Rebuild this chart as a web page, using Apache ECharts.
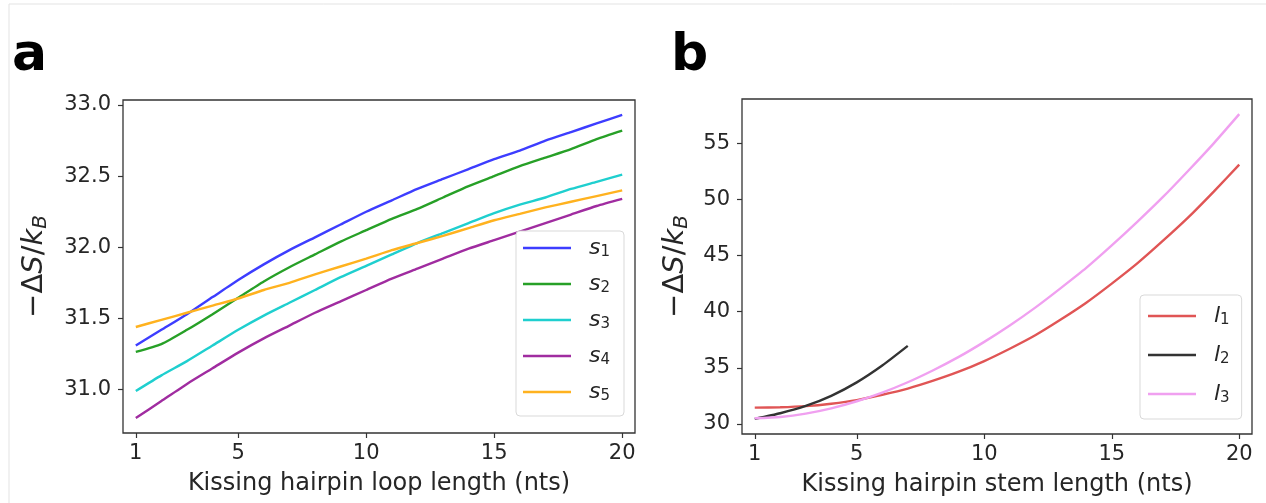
<!DOCTYPE html>
<html>
<head>
<meta charset="utf-8">
<script src="https://cdn.jsdelivr.net/npm/echarts@6/dist/echarts.min.js"></script>
<style>
  html, body { margin: 0; padding: 0; background: #fff; }
  #main { width: 1266px; height: 503px; }
</style>
</head>
<body>
<div id="main"></div>
<script>
// panel a: loop length vs -dS/kB
const loopLen = [1,2,3,4,5,6,7,8,9,10,11,12,13,14,15,16,17,18,19,20];
const s1 = [31.31,31.42,31.53,31.65,31.77,31.88,31.98,32.07,32.16,32.25,32.33,32.41,32.48,32.55,32.62,32.68,32.75,32.81,32.87,32.93];
const s2 = [31.265,31.32,31.42,31.53,31.645,31.76,31.86,31.95,32.04,32.12,32.2,32.27,32.35,32.43,32.5,32.57,32.63,32.69,32.76,32.82];
const s3 = [30.99,31.1,31.2,31.31,31.42,31.52,31.61,31.7,31.79,31.87,31.95,32.03,32.1,32.17,32.24,32.3,32.35,32.41,32.46,32.51];
const s4 = [30.8,30.92,31.04,31.15,31.26,31.36,31.45,31.54,31.62,31.7,31.78,31.85,31.92,31.99,32.05,32.11,32.17,32.23,32.29,32.34];
const s5 = [31.44,31.49,31.54,31.59,31.64,31.7,31.75,31.81,31.865,31.92,31.98,32.03,32.08,32.135,32.19,32.235,32.28,32.32,32.36,32.4];

// panel b: stem length
const stemLen = [1,2,3,4,5,6,7,8,9,10,11,12,13,14,15,16,17,18,19,20];
const stemLenShort = [1,2,3,4,5,6,7];
const l1 = [31.45,31.48,31.58,31.8,32.12,32.6,33.15,33.85,34.65,35.6,36.7,37.9,39.3,40.8,42.5,44.3,46.3,48.4,50.7,53.1];
const l2 = [30.45,30.95,31.6,32.5,33.7,35.2,36.95];
const l3 = [30.5,30.62,30.92,31.39,32.02,32.79,33.71,34.78,35.97,37.31,38.77,40.36,42.1,43.9,45.9,48.0,50.2,52.56,55.0,57.6];

const xTicks = [1,5,10,15,20];
const sTicks = [31,31.5,32,32.5,33];
const lTicks = [30,35,40,45,50,55];

const colS = ['#3d3dff','#27a027','#1fcfcf','#a02ca0','#ffb21f'];
const colL = ['#e05555','#333333','#f0a0f0'];

const FONT = 'DejaVu Sans';
const TXT = '#262626';

function pairs(xs, ys) { return ys.map((v, i) => [xs[i], v]); }

function xAx(idx, name) {
  return {
    type: 'value', gridIndex: idx, min: 0.5, max: 20.5,
    name: name, nameLocation: 'middle', nameGap: 39,
    nameTextStyle: { fontFamily: FONT, fontSize: 24, color: TXT },
    axisLine: { show: false },
    splitLine: { show: false },
    axisTick: { show: true, inside: false, length: 5, customValues: xTicks, lineStyle: { color: '#333', width: 1.2 } },
    axisLabel: { customValues: xTicks, margin: 10, fontFamily: FONT, fontSize: 21, color: TXT }
  };
}

function yAx(idx, min, max, ticks, fmt, gap) {
  return {
    type: 'value', gridIndex: idx, min: min, max: max,
    name: '{a|−Δ}{i|S}{a|/}{i|k}{b|B}', nameLocation: 'middle', nameRotate: 90, nameGap: gap,
    nameTextStyle: {
      rich: {
        a: { fontFamily: FONT, fontSize: 29, color: TXT, lineHeight: 34 },
        i: { fontFamily: FONT, fontSize: 29, fontStyle: 'italic', color: TXT, lineHeight: 34 },
        b: { fontFamily: FONT, fontSize: 20, fontStyle: 'italic', color: TXT, lineHeight: 20, verticalAlign: 'bottom' }
      }
    },
    axisLine: { show: false },
    splitLine: { show: false },
    axisTick: { show: true, inside: false, length: 5, customValues: ticks, lineStyle: { color: '#333', width: 1.2 } },
    axisLabel: { customValues: ticks, margin: 12, fontFamily: FONT, fontSize: 21, color: TXT, formatter: fmt }
  };
}

function legendRich() {
  return {
    v: { fontFamily: FONT, fontSize: 22, fontStyle: 'italic', color: TXT, lineHeight: 24, padding: [0, 0, 0, 13] },
    n: { fontFamily: FONT, fontSize: 15, color: TXT, lineHeight: 14, verticalAlign: 'bottom' }
  };
}

function line(name, xi, data, color) {
  return {
    name: name, type: 'line', xAxisIndex: xi, yAxisIndex: xi,
    data: data, showSymbol: false, symbol: 'none', smooth: 0.2,
    lineStyle: { color: color, width: 2.4 }, itemStyle: { color: color },
    animation: false
  };
}

const chart = echarts.init(document.getElementById('main'));
chart.setOption({
  backgroundColor: '#fff',
  animation: false,
  graphic: [
    { type: 'rect', shape: { x: 9, y: 4, width: 1300, height: 600 }, style: { fill: 'none', stroke: '#e3e3e3', lineWidth: 1 } },
    { type: 'text', style: { text: 'a', x: 12, y: 56, verticalAlign: 'middle', font: 'bold 52px "DejaVu Sans"', fill: '#000' } },
    { type: 'text', style: { text: 'b', x: 671, y: 56, verticalAlign: 'middle', font: 'bold 52px "DejaVu Sans"', fill: '#000' } }
  ],
  grid: [
    { left: 123, top: 100, width: 512, height: 333, show: true, borderColor: '#333', borderWidth: 1.3, backgroundColor: 'transparent' },
    { left: 742, top: 99, width: 510, height: 335, show: true, borderColor: '#333', borderWidth: 1.3, backgroundColor: 'transparent' }
  ],
  xAxis: [
    xAx(0, 'Kissing hairpin loop length (nts)'),
    xAx(1, 'Kissing hairpin stem length (nts)')
  ],
  yAxis: [
    yAx(0, 30.695, 33.035, sTicks, v => v.toFixed(1), 72),
    yAx(1, 29.1, 58.95, lTicks, v => String(v), 50)
  ],
  legend: [
    {
      data: ['s1','s2','s3','s4','s5'], orient: 'vertical', left: 516, top: 231,
      icon: 'rect', itemWidth: 48, itemHeight: 2.6, itemGap: 13,
      padding: [6, 14, 12, 7], backgroundColor: '#fff', borderColor: '#d9d9d9', borderWidth: 1, borderRadius: 4,
      formatter: n => '{v|' + n[0] + '}{n|' + n.slice(1) + '}',
      textStyle: { rich: legendRich() }
    },
    {
      data: ['l1','l2','l3'], orient: 'vertical', left: 1140, top: 295,
      icon: 'rect', itemWidth: 48, itemHeight: 2.6, itemGap: 16,
      padding: [10, 12, 13, 8], backgroundColor: '#fff', borderColor: '#d9d9d9', borderWidth: 1, borderRadius: 4,
      formatter: n => '{v|' + n[0] + '}{n|' + n.slice(1) + '}',
      textStyle: { rich: legendRich() }
    }
  ],
  series: [
    line('s1', 0, pairs(loopLen, s1), colS[0]),
    line('s2', 0, pairs(loopLen, s2), colS[1]),
    line('s3', 0, pairs(loopLen, s3), colS[2]),
    line('s4', 0, pairs(loopLen, s4), colS[3]),
    line('s5', 0, pairs(loopLen, s5), colS[4]),
    line('l1', 1, pairs(stemLen, l1), colL[0]),
    line('l2', 1, pairs(stemLenShort, l2), colL[1]),
    line('l3', 1, pairs(stemLen, l3), colL[2])
  ]
});
</script>
</body>
</html>
